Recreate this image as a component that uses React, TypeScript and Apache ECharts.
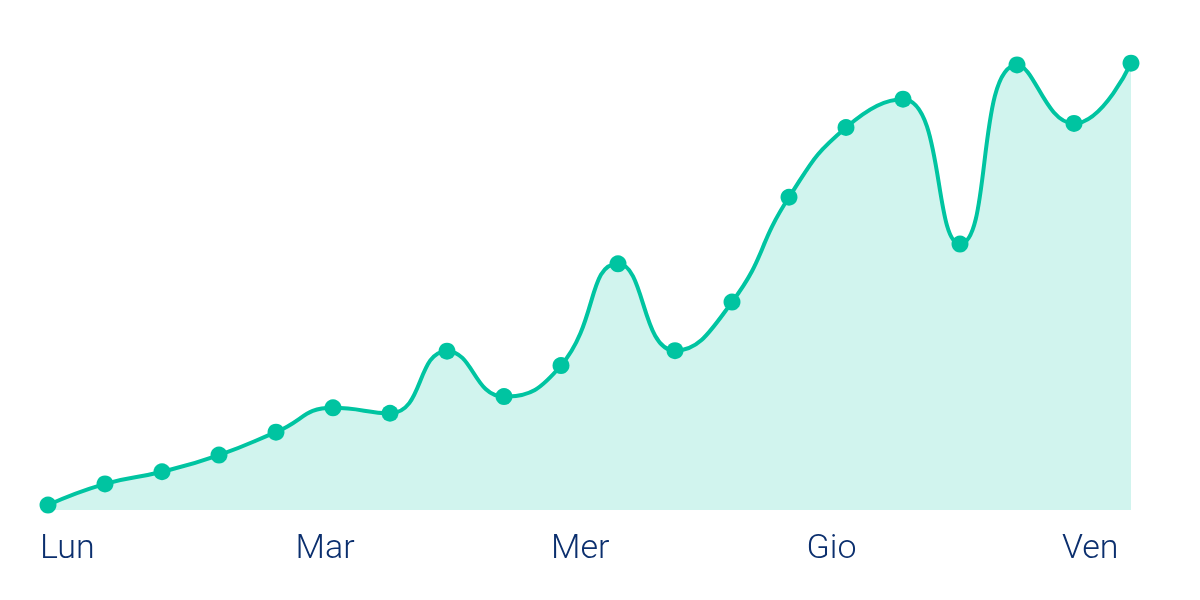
import React, { useEffect, useRef } from "react";
import * as echarts from "echarts";

const pointLabels = [
  "1", "2", "3", "4", "5", "6", "7", "8", "9", "10",
  "11", "12", "13", "14", "15", "16", "17", "18", "19", "20",
];
const values = [
  1.1, 5.8, 8.5, 12.2, 17.3, 22.7, 21.5, 35.3, 25.2, 32.1,
  54.7, 35.4, 46.2, 69.5, 85.0, 91.3, 59.1, 98.9, 85.9, 99.3,
];
const dayLabels = ["Lun", "Mar", "Mer", "Gio", "Ven"];

const LINE = "#00C4A1";
const TEXT = "#0B2F6E";

export default function App() {
  const ref = useRef<HTMLDivElement>(null);
  useEffect(() => {
    if (!ref.current) return;
    const chart = echarts.init(ref.current, undefined, { renderer: "svg" });
    chart.setOption({
      animation: false,
      grid: [
        { left: 48, right: 69, top: 60, bottom: 90 },
        { left: 40, right: 138, top: 60, bottom: 90 },
      ],
      xAxis: [
        {
          type: "category",
          gridIndex: 0,
          data: pointLabels,
          boundaryGap: false,
          axisLine: { show: false },
          axisTick: { show: false },
          axisLabel: { show: false },
          splitLine: { show: false },
        },
        {
          type: "category",
          gridIndex: 1,
          data: dayLabels,
          boundaryGap: false,
          axisLine: { show: false },
          axisTick: { show: false },
          splitLine: { show: false },
          axisLabel: {
            show: true,
            interval: 0,
            align: "left",
            margin: 19,
            color: TEXT,
            fontSize: 34,
            fontFamily: "Roboto",
            fontWeight: 300,
          },
        },
      ],
      yAxis: [
        {
          type: "value",
          gridIndex: 0,
          min: 0,
          max: 100,
          show: false,
          splitLine: { show: false },
        },
        {
          type: "value",
          gridIndex: 1,
          min: 0,
          max: 100,
          show: false,
          splitLine: { show: false },
        },
      ],
      series: [
        {
          type: "line",
          xAxisIndex: 0,
          yAxisIndex: 0,
          data: values,
          smooth: 0.5,
          symbol: "circle",
          symbolSize: 17,
          showSymbol: true,
          itemStyle: { color: LINE },
          lineStyle: { color: LINE, width: 4 },
          areaStyle: { color: "#D1F4EE", opacity: 1 },
        },
      ],
    });
    return () => chart.dispose();
  }, []);
  return (
    <div
      ref={ref}
      style={{ position: "fixed", left: 0, top: 0, width: 1200, height: 600 }}
    />
  );
}
